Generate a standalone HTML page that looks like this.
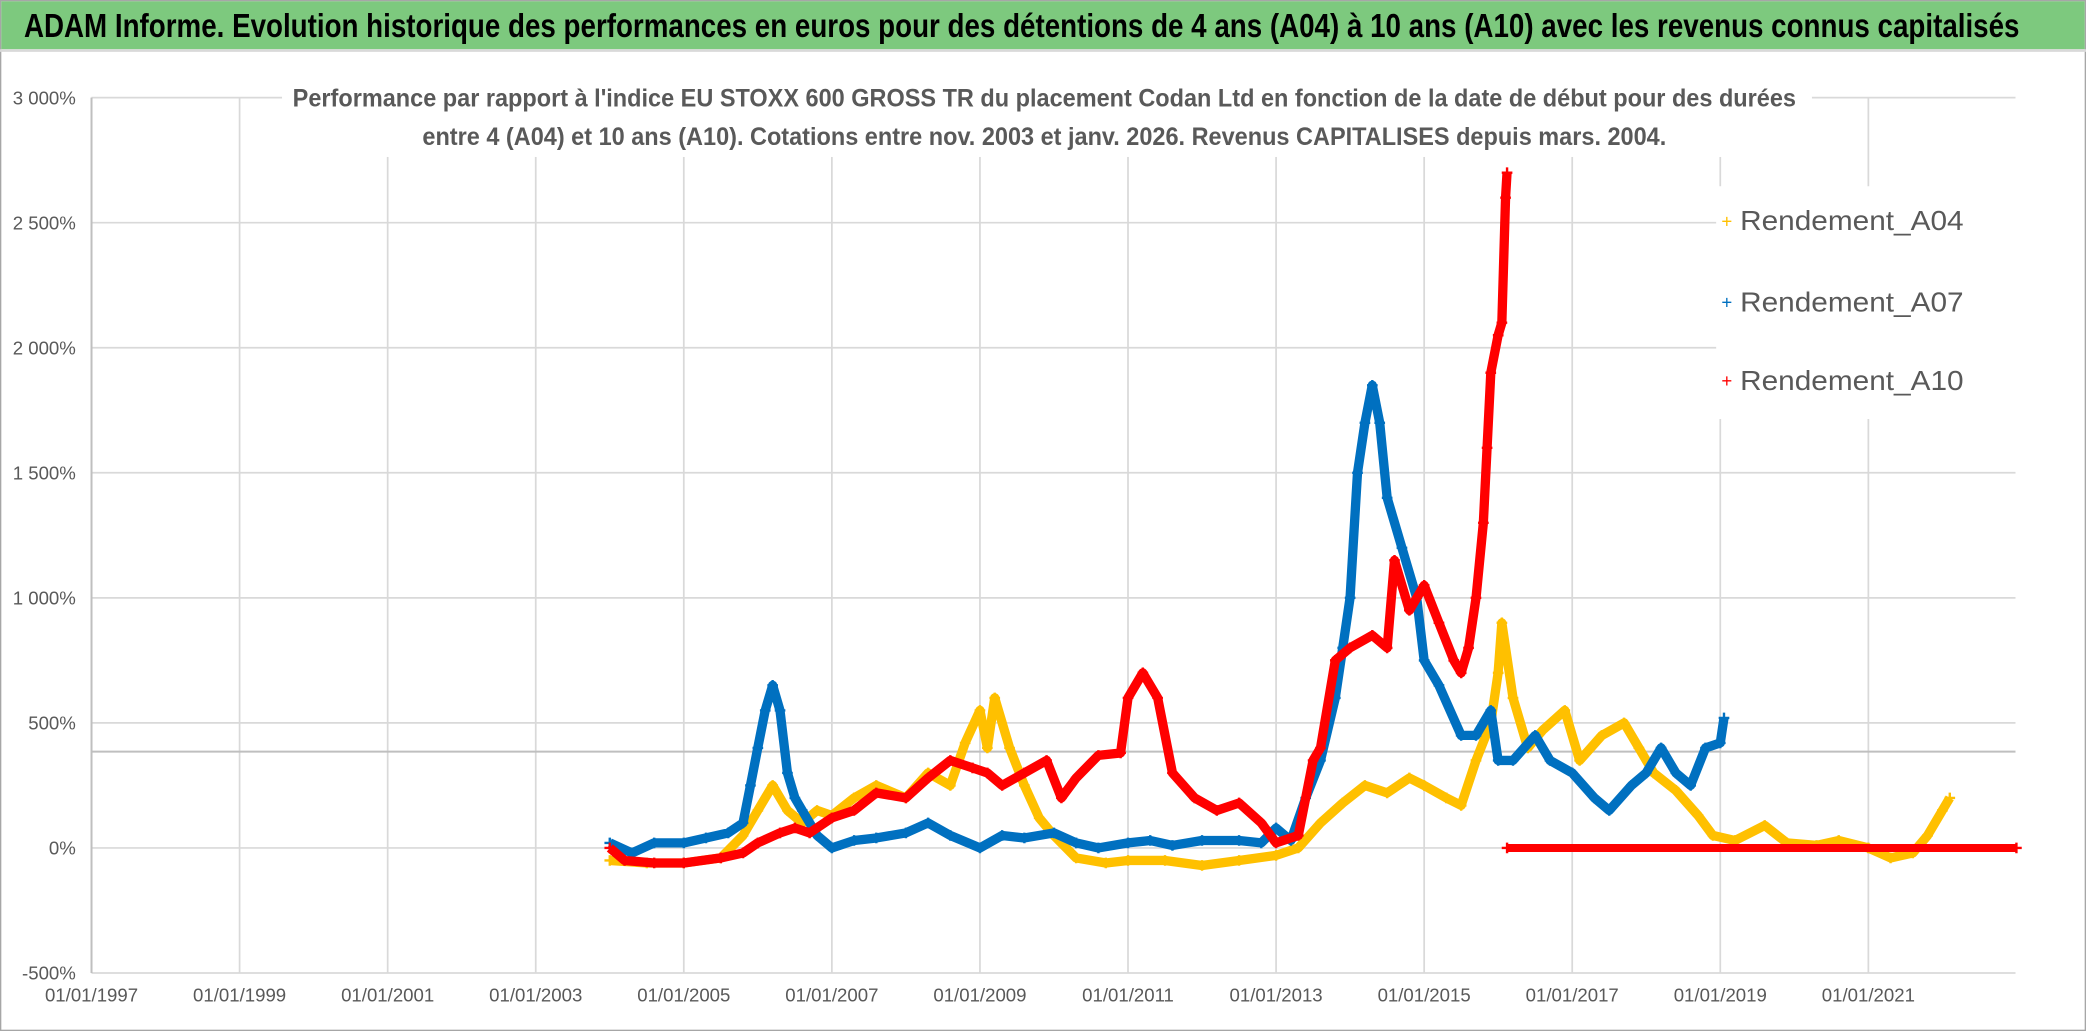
<!DOCTYPE html>
<html><head><meta charset="utf-8"><style>
html,body{margin:0;padding:0;background:#fff;}
svg{display:block;}
text{font-family:"Liberation Sans Narrow","Liberation Sans",sans-serif;}
</style></head><body>
<svg id="chart" width="2086" height="1031" viewBox="0 0 1568 775" preserveAspectRatio="none" xmlns="http://www.w3.org/2000/svg">
<rect x="0" y="0" width="1568" height="775" fill="#fff"/>
<rect x="0.5" y="0.5" width="1567" height="774" fill="none" stroke="#a6a6a6"/>
<rect x="1" y="1" width="1566" height="36" fill="#7DC97E"/>
<line x1="0" y1="38" x2="1568" y2="38" stroke="#d9d9d9" stroke-width="2"/>
<text x="768" y="28" text-anchor="middle" font-size="25" font-weight="bold" fill="#000" textLength="1500" lengthAdjust="spacingAndGlyphs">ADAM Informe. Evolution historique des performances en euros pour des détentions de 4 ans (A04) à 10 ans (A10) avec les revenus connus capitalisés</text>
<g id="grid"></g>
<line x1="68.8" y1="565" x2="1515" y2="565" stroke="#bfbfbf" stroke-width="1.5"/>
<g id="yaxis"></g>
<g id="xaxis"></g>
<rect x="212" y="56" width="1150" height="62" fill="#fff"/>
<text x="785" y="80" text-anchor="middle" font-size="19" font-weight="bold" fill="#595959" textLength="1130" lengthAdjust="spacingAndGlyphs">Performance par rapport à l'indice EU STOXX 600 GROSS TR  du placement Codan Ltd en fonction de la date de début pour des durées</text>
<text x="785" y="109" text-anchor="middle" font-size="19" font-weight="bold" fill="#595959" textLength="935" lengthAdjust="spacingAndGlyphs">entre 4 (A04) et 10 ans (A10). Cotations entre nov. 2003 et janv. 2026. Revenus CAPITALISES depuis mars. 2004.</text>
<g id="series"></g>
<g>
<rect x="1290" y="140" width="225" height="175" fill="#fff"/>
<g><text x="1298" y="171" font-size="14" fill="#FFC000" text-anchor="middle">+</text><text x="1308" y="173" font-size="21" fill="#595959" textLength="168" lengthAdjust="spacingAndGlyphs">Rendement_A04</text></g>
<g><text x="1298" y="232" font-size="14" fill="#0070C0" text-anchor="middle">+</text><text x="1308" y="234" font-size="21" fill="#595959" textLength="168" lengthAdjust="spacingAndGlyphs">Rendement_A07</text></g>
<g><text x="1298" y="291" font-size="14" fill="#FF0000" text-anchor="middle">+</text><text x="1308" y="293" font-size="21" fill="#595959" textLength="168" lengthAdjust="spacingAndGlyphs">Rendement_A10</text></g>
</g>
</svg>
<script>
const yTicks=[-500,0,500,1000,1500,2000,2500,3000];
const yTickLabels=["-500%","0%","500%","1 000%","1 500%","2 000%","2 500%","3 000%"];
const xTicks=[1997,1999,2001,2003,2005,2007,2009,2011,2013,2015,2017,2019,2021];
const xTickLabels=["01/01/1997","01/01/1999","01/01/2001","01/01/2003","01/01/2005","01/01/2007","01/01/2009","01/01/2011","01/01/2013","01/01/2015","01/01/2017","01/01/2019","01/01/2021"];
const a04Dates=[2004.0,2004.5,2005.0,2005.5,2005.8,2006.0,2006.2,2006.4,2006.6,2006.8,2007.0,2007.3,2007.6,2008.0,2008.3,2008.6,2008.8,2009.0,2009.1,2009.2,2009.4,2009.6,2009.8,2010.0,2010.3,2010.7,2011.0,2011.5,2012.0,2012.5,2013.0,2013.3,2013.6,2013.9,2014.2,2014.5,2014.8,2015.0,2015.3,2015.5,2015.7,2015.9,2016.0,2016.05,2016.2,2016.4,2016.6,2016.9,2017.1,2017.4,2017.7,2017.9,2018.1,2018.4,2018.7,2018.9,2019.2,2019.6,2019.9,2020.3,2020.6,2021.0,2021.3,2021.6,2021.8,2022.0,2022.1];
const a04Values=[-50,-60,-60,-40,50,150,250,150,100,150,130,200,250,200,300,250,420,550,400,600,400,250,120,50,-40,-60,-50,-50,-70,-50,-30,0,100,180,250,220,280,250,200,170,350,500,700,900,600,400,470,550,350,450,500,400,300,230,130,50,30,90,20,10,30,0,-40,-20,50,150,200];
const a07Dates=[2004.0,2004.3,2004.6,2005.0,2005.3,2005.6,2005.8,2005.9,2006.0,2006.1,2006.2,2006.3,2006.4,2006.5,2006.6,2006.8,2007.0,2007.3,2007.6,2008.0,2008.3,2008.6,2009.0,2009.3,2009.6,2010.0,2010.3,2010.6,2011.0,2011.3,2011.6,2012.0,2012.5,2012.8,2013.0,2013.2,2013.4,2013.6,2013.8,2013.9,2014.0,2014.1,2014.2,2014.3,2014.4,2014.5,2014.7,2014.9,2015.0,2015.2,2015.5,2015.7,2015.9,2016.0,2016.2,2016.5,2016.7,2017.0,2017.3,2017.5,2017.8,2018.0,2018.2,2018.4,2018.6,2018.8,2019.0,2019.05];
const a07Values=[20,-20,20,20,40,60,100,250,400,550,650,550,300,200,150,50,0,30,40,60,100,50,0,50,40,60,20,0,20,30,10,30,30,20,80,30,200,350,600,800,1000,1500,1700,1850,1700,1400,1200,1000,750,650,450,450,550,350,350,450,350,300,200,150,250,300,400,300,250,400,420,520];
const a10Dates=[2004.0,2004.2,2004.6,2005.0,2005.5,2005.8,2006.0,2006.3,2006.5,2006.7,2007.0,2007.3,2007.6,2008.0,2008.3,2008.6,2008.9,2009.1,2009.3,2009.6,2009.9,2010.1,2010.3,2010.6,2010.9,2011.0,2011.2,2011.4,2011.6,2011.9,2012.2,2012.5,2012.8,2013.0,2013.3,2013.5,2013.6,2013.8,2014.0,2014.3,2014.5,2014.6,2014.8,2015.0,2015.2,2015.4,2015.5,2015.6,2015.7,2015.8,2015.85,2015.9,2016.0,2016.05,2016.1,2016.12];
const a10Values=[0,-50,-60,-60,-40,-20,20,60,80,60,120,150,220,200,280,350,320,300,250,300,350,200,280,370,380,600,700,600,300,200,150,180,100,20,50,350,400,750,800,850,800,1150,950,1050,900,750,700,800,1000,1300,1600,1900,2050,2100,2600,2700];
const a10ZeroDates=[2016.12,2023.0];
const a10ZeroValues=[0,0];

const NS="http://www.w3.org/2000/svg";
const X0=68.8,YR=55.65,Y0=637.4,PPV=94.0/500;
function xs(d){return X0+(d-1997)*YR;}
function ys(v){return Y0-v*PPV;}
function mk(tag,attrs,parent){const e=document.createElementNS(NS,tag);for(const k in attrs)e.setAttribute(k,attrs[k]);parent.appendChild(e);return e;}

const grid=document.getElementById('grid');
const yax=document.getElementById('yaxis');
const xax=document.getElementById('xaxis');
yTicks.forEach((t,i)=>{
  const l=mk('line',{x1:X0,x2:1515,y1:ys(t),y2:ys(t),stroke:'#d9d9d9','stroke-width':1.3},grid);
  
  
  const tx=mk('text',{x:57,y:ys(t)+5,'text-anchor':'end','font-size':14,fill:'#595959'},yax);
  tx.textContent=yTickLabels[i];
  
  
});
xTicks.forEach((t,i)=>{
  const x=xs(t);
  const l=mk('line',{x1:x,x2:x,y1:ys(3000),y2:ys(-500),stroke:'#d9d9d9','stroke-width':1.3},grid);
  
  
  const tx=mk('text',{x:x,y:753,'text-anchor':'middle','font-size':14,fill:'#595959'},xax);
  tx.textContent=xTickLabels[i];
  
  
});
mk('line',{x1:X0,x2:X0,y1:ys(3000),y2:ys(-500),stroke:'#bfbfbf','stroke-width':1.5},grid);

const ser=document.getElementById('series');
function drawSeries(name,dates,vals,color,w){
  const g=mk('g',{},ser);
  
  
  const pts=dates.map((d,i)=>xs(d).toFixed(1)+','+ys(vals[i]).toFixed(1)).join(' ');
  const pl=mk('polyline',{points:pts,fill:'none',stroke:color,'stroke-width':w,'stroke-linejoin':'round'},g);
  
  
  dates.forEach((d,i)=>{
    const x=xs(d),y=ys(vals[i]);
    const p=mk('path',{d:`M${x-4},${y}H${x+4}M${x},${y-4}V${y+4}`,stroke:color,'stroke-width':1.8},g);
    
    
  });
}
drawSeries('series-a04',a04Dates,a04Values,'#FFC000',7);
drawSeries('series-a07',a07Dates,a07Values,'#0070C0',7);
drawSeries('series-a10',a10Dates,a10Values,'#FF0000',7);
drawSeries('series-a10-zero',a10ZeroDates,a10ZeroValues,'#FF0000',6);
</script>
</body></html>
